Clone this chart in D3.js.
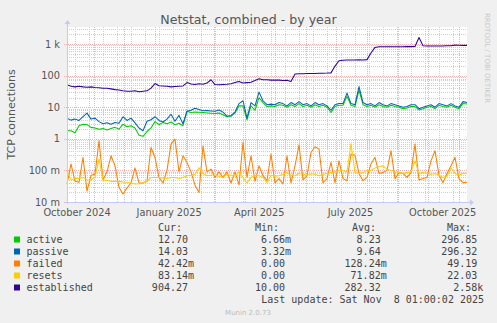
<!DOCTYPE html>
<html><head><meta charset="utf-8">
<script src="https://cdn.jsdelivr.net/npm/d3@7"></script>
<style>
html,body{margin:0;padding:0;background:#f0f0f0;}
svg{display:block;}
text{white-space:pre;}
</style></head><body>
<svg id="c" width="497" height="323"></svg>
<script>
// ---------- data ----------
const seriesNames  = ["active","passive","failed","resets","established"];
const seriesColors = ["#00cc00","#0066b3","#ff8000","#ffcc00","#330099"];

const startTime = Date.UTC(2024, 9, 5, 12);
const endTime   = Date.UTC(2025, 10, 8, 19);

const active = [1.8,1.8,1.55,2.6,2.9,2.8,2.3,2.2,2.0,2.1,
  1.9,2.1,2.3,2.0,2.9,2.4,2.6,2.2,1.3,1.2,
  1.7,2.2,3.5,2.8,3.3,3.0,3.4,2.8,3.1,2.6,
  7.5,6.8,7.0,6.9,6.8,6.6,6.4,6.3,6.5,5.8,
  5.0,5.1,6.5,11,11,4.0,11,8,20,14,
  10.5,11,10.5,12,11.5,10,12,10.5,13,10.5,
  11.5,10,12,10.5,11.5,10,6.8,10.5,11.5,11.5,
  22,11.5,10.5,35,12,10.5,11.5,10,12,10.5,
  10,11.5,10.5,10,9,9.5,10.5,10.5,8.2,9,
  10,10.5,9,11.5,10.5,10,11.5,10,9,13,
  12.7];
const passive = [4.5,3.9,4.2,3.8,5.0,6.5,4.2,4.5,3.5,3.0,
  3.2,2.9,3.3,3.1,5.0,3.8,4.5,3.2,2.2,1.8,
  3.6,4.0,5.0,3.8,3.4,4.2,6.0,3.6,5.5,3.0,
  7.5,8.0,9.2,8.5,7.7,7.8,7.6,7.4,8.2,7.0,
  5.2,5.5,7.0,13,16,4.5,14,11,30,16,
  12,12.5,12,14,13,11,14,12,15,12,
  13,11,14,12,13,11,8,12,13,13,
  28,13,12,45,14,12,13,11,14,12,
  11,13,12,11,10,10.5,12,12,9,10,
  11,12,10,13,12,11,13,11,10,15,
  14];
const failed = [0.037,0.16,0.045,0.042,0.26,0.022,0.07,0.076,0.86,0.05,
  0.09,0.29,0.14,0.029,0.018,0.028,0.04,0.12,0.04,0.04,
  0.045,0.53,0.26,0.06,0.04,0.1,0.68,0.98,0.09,0.29,
  0.18,0.09,0.034,0.02,0.6,0.09,0.11,0.06,0.09,0.06,
  0.09,0.04,0.09,0.035,0.77,0.06,0.29,0.045,0.14,0.068,
  0.047,0.33,0.04,0.055,0.037,0.29,0.04,0.14,0.64,0.05,
  0.068,0.37,0.56,0.47,0.04,0.055,0.18,0.04,0.2,0.055,
  0.047,0.33,0.3,0.08,0.047,0.06,0.16,0.26,0.08,0.085,
  0.1,0.42,0.055,0.085,0.08,0.06,0.085,0.68,0.05,0.055,
  0.06,0.2,0.42,0.07,0.041,0.08,0.14,0.26,0.055,0.041,
  0.042];
const resets = [0.097,0.05,0.055,0.055,0.06,0.05,0.05,0.06,0.23,0.05,
  0.048,0.045,0.045,0.045,0.043,0.042,0.04,0.037,0.038,0.04,
  0.045,0.06,0.06,0.06,0.058,0.055,0.06,0.06,0.055,0.06,
  0.068,0.07,0.075,0.12,0.08,0.068,0.07,0.072,0.065,0.06,
  0.075,0.07,0.065,0.09,0.06,0.04,0.06,0.07,0.068,0.06,
  0.041,0.07,0.065,0.068,0.075,0.086,0.07,0.068,0.08,0.075,
  0.07,0.078,0.075,0.068,0.075,0.08,0.085,0.09,0.1,0.097,
  0.09,0.7,0.085,0.08,0.085,0.1,0.1,0.12,0.13,0.14,
  0.11,0.1,0.09,0.085,0.08,0.085,0.09,0.2,0.08,0.085,
  0.08,0.075,0.08,0.07,0.06,0.065,0.12,0.08,0.07,0.08,
  0.083];
const established = [51,46,44,46,44,43,44,42,41,40,
  40,38,36,35,33,32,32,33,31,32,
  33,40,56,48,47,46,44,45,46,47,
  60,54,52,55,53,58,74,52,51,52,
  53,55,60,65,58,60,62,70,80,74,
  74,72,73,72,70,71,65,112,114,115,
  116,116,117,118,119,120,122,200,295,305,
  310,312,310,315,312,320,520,780,820,820,
  820,820,820,820,822,825,825,830,1600,880,
  870,870,870,870,870,875,880,920,910,905,
  904];

const curVals = ["12.70","14.03","42.42m","83.14m","904.27"];
const minVals = ["6.66m","3.32m","0.00","0.00","10.00"];
const avgVals = ["8.23","9.64","128.24m","71.82m","282.32"];
const maxVals = ["296.85","296.32","49.19","22.03","2.58k"];

const yTickValues = [0.01,0.1,1,10,100,1000];
const yTickLabels = ["10 m","100 m","1","10","100","1 k"];
const xLabelDates = [Date.UTC(2024,9,15),Date.UTC(2025,0,15),Date.UTC(2025,3,15),Date.UTC(2025,6,15),Date.UTC(2025,9,15)];
const xLabelTexts = ["October 2024","January 2025","April 2025","July 2025","October 2025"];

const titleText = "Netstat, combined - by year";
const yAxisTitle = "TCP connections";
const lastUpdate = "Last update: Sat Nov  8 01:00:02 2025";
const footer = "Munin 2.0.73";
const watermark = "RRDTOOL / TOBI OETIKER";

// ---------- drawing ----------
const svg = d3.select("#c");
const L = 67, R = 467, T = 27, B = 202;
const x = d3.scaleUtc().domain([new Date(startTime), new Date(endTime)]).range([L, R]);
const y = d3.scaleLog().domain([0.01, 3451]).range([B, T]);
const SANS = "DejaVu Sans, sans-serif", MONO = "DejaVu Sans Mono, monospace";

svg.append("rect").attr("width",497).attr("height",323).attr("fill","#f0f0f0");
svg.append("rect").attr("x",L).attr("y",T).attr("width",R-L).attr("height",B-T).attr("fill","#ffffff");

const grid = svg.append("g").attr("shape-rendering","crispEdges");
const minorCol = "#cfcfcf", majorCol = "#f2b0b0";
function gl(x1,x2,y1,y2,col){
  grid.append("line").attr("x1",x1).attr("x2",x2).attr("y1",y1).attr("y2",y2)
    .attr("stroke",col).attr("stroke-width",1).attr("stroke-dasharray","1,1");
}
// minor horizontal
yTickValues.forEach(d => {
  for (let m = 2; m <= 9; m++) {
    const v = d*m; if (v > y.domain()[1]) continue;
    const yy = Math.round(y(v)) + 0.5;
    gl(L,R,yy,yy,minorCol);
  }
});
// minor vertical: every 14 days
d3.utcDay.range(new Date(Date.UTC(2024,9,13)), new Date(endTime), 14).forEach(d => {
  const xx = Math.round(x(d)) + 0.5;
  gl(xx,xx,T,B,minorCol);
});
// major vertical: month starts
d3.utcMonth.range(new Date(startTime), new Date(endTime)).forEach(d => {
  const xx = Math.round(x(d)) + 0.5;
  gl(xx,xx,T,B,majorCol);
});
// major horizontal
yTickValues.forEach(v => {
  const yy = Math.round(y(v)) + 0.5;
  gl(L-3,R,yy,yy,majorCol);
});

// series
const allSeries = [active, passive, failed, resets, established];
const n = active.length;
const tAt = i => new Date(startTime + i*(endTime-startTime)/(n-1));
const line = d3.line().x((d,i)=>x(tAt(i))).y(d=>y(d)).defined(d=>d>0);
allSeries.forEach((s,k) => {
  svg.append("path").datum(s).attr("d",line).attr("fill","none")
    .attr("stroke",seriesColors[k]).attr("stroke-width",1.05).attr("stroke-linejoin","round");
});

// axes lines + arrows
const axCol = "#c4caf4";
svg.append("line").attr("x1",L+0.5).attr("x2",L+0.5).attr("y1",B+2).attr("y2",T-4).attr("stroke",axCol).attr("stroke-width",1);
svg.append("path").attr("d",`M${L-2.5},${T-3} L${L+3.5},${T-3} L${L+0.5},${T-7} Z`).attr("fill",axCol);
svg.append("line").attr("x1",L-2).attr("x2",R+4).attr("y1",B+0.5).attr("y2",B+0.5).attr("stroke",axCol).attr("stroke-width",1);
svg.append("path").attr("d",`M${R+3},${B-2.5} L${R+3},${B+3.5} L${R+7},${B+0.5} Z`).attr("fill",axCol);

// y axis labels
const yAx = svg.append("g").attr("transform",`translate(${L},0)`)
  .call(d3.axisLeft(y).tickValues(yTickValues).tickFormat((d,i)=>yTickLabels[i]).tickSize(0).tickPadding(7));
yAx.select(".domain").remove();
yAx.selectAll("text").attr("font-family",SANS).attr("font-size","9.8px").attr("fill","#555");

// x axis labels
const xAx = svg.append("g").attr("transform",`translate(0,${B})`)
  .call(d3.axisBottom(x).tickValues(xLabelDates.map(d=>new Date(d))).tickFormat((d,i)=>xLabelTexts[i]).tickSize(0).tickPadding(7));
xAx.select(".domain").remove();
xAx.selectAll("text").attr("font-family",SANS).attr("font-size","9.8px").attr("fill","#555");

// titles
svg.append("text").attr("x",248.5).attr("y",23.5).attr("text-anchor","middle")
  .attr("font-family",SANS).attr("font-size","12.6px").attr("fill","#555").text(titleText);
svg.append("text").attr("transform",`translate(15,114.5) rotate(-90)`).attr("text-anchor","middle")
  .attr("font-family",SANS).attr("font-size","11px").attr("fill","#555").text(yAxisTitle);
svg.append("text").attr("transform",`translate(485,13) rotate(90)`).attr("text-anchor","start")
  .attr("font-family",SANS).attr("font-size","7px").attr("fill","#c8c8c8").text(watermark);

// legend
const CW = 6.02;
const lg = svg.append("g").attr("font-family",MONO).attr("font-size","10px").attr("fill","#444");
[["Cur:",158],["Min:",255],["Avg:",352],["Max:",447]].forEach(h=>{
  lg.append("text").attr("x",h[1]).attr("y",230.5).text(h[0]);
});
const colEnds = [194, 291, 386.7, 483.3];
seriesNames.forEach((name,i) => {
  const by = 242.5 + i*12;
  lg.append("rect").attr("x",14).attr("y",by-6).attr("width",6).attr("height",6).attr("fill",seriesColors[i]);
  lg.append("text").attr("x",26.5).attr("y",by).text(name);
  [curVals,minVals,avgVals,maxVals].forEach((arr,c) => {
    const s = arr[i];
    const len = /[0-9]$/.test(s) ? s.length + 1 : s.length;
    lg.append("text").attr("x",colEnds[c] - len*CW).attr("y",by).text(s);
  });
});
lg.append("text").attr("x",484 - lastUpdate.length*CW).attr("y",302.5)
  .attr("xml:space","preserve").style("white-space","pre").text(lastUpdate);
svg.append("text").attr("x",248).attr("y",315).attr("text-anchor","middle")
  .attr("font-family",SANS).attr("font-size","7px").attr("fill","#bbbbbb").text(footer);
</script>
</body></html>
